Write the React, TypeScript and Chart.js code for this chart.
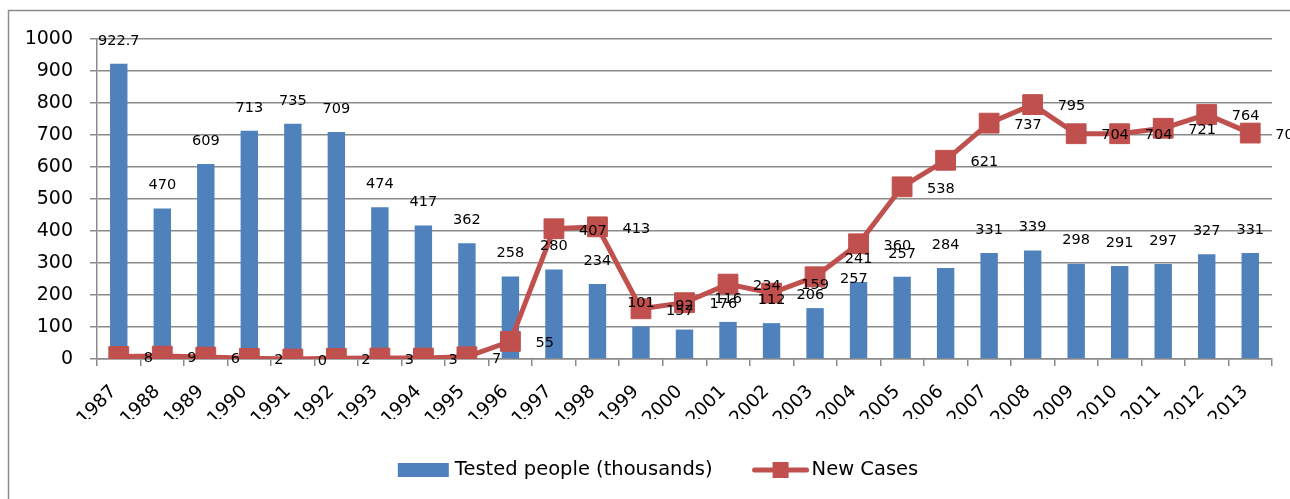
import React, { useEffect, useRef } from 'react';
import { Chart, registerables } from 'chart.js';

Chart.register(...registerables);

const years = ['1987', '1988', '1989', '1990', '1991', '1992', '1993', '1994', '1995', '1996', '1997', '1998', '1999', '2000', '2001', '2002', '2003', '2004', '2005', '2006', '2007', '2008', '2009', '2010', '2011', '2012', '2013'];
const testedPeople = [922.7, 470, 609, 713, 735, 709, 474, 417, 362, 258, 280, 234, 101, 92, 116, 112, 159, 241, 257, 284, 331, 339, 298, 291, 297, 327, 331];
const newCases = [8, 9, 6, 2, 0, 2, 3, 3, 7, 55, 407, 413, 157, 176, 234, 206, 257, 360, 538, 621, 737, 795, 704, 704, 721, 764, 706];
const seriesNames = ['Tested people (thousands)', 'New Cases'];

const BAR_COLOR = '#4F81BD';
const LINE_COLOR = '#C0504D';
const GRID_COLOR = '#8a8a8a';
const FONT = '"DejaVu Sans", sans-serif';

const framePlugin = {
  id: 'frame',
  beforeDraw(chart: any) {
    const ctx = chart.ctx;
    ctx.save();
    ctx.fillStyle = '#ffffff';
    ctx.fillRect(0, 0, chart.width, chart.height);
    ctx.strokeStyle = '#8a8a8a';
    ctx.lineWidth = 1.5;
    ctx.beginPath();
    ctx.moveTo(8.5, chart.height + 2);
    ctx.lineTo(8.5, 10.5);
    ctx.lineTo(chart.width + 2, 10.5);
    ctx.stroke();
    ctx.restore();
  },
};

const dataLabelPlugin = {
  id: 'dataLabels',
  afterDatasetsDraw(chart: any) {
    const ctx = chart.ctx;
    ctx.save();
    ctx.font = '14.5px ' + FONT;
    ctx.fillStyle = '#000000';
    ctx.textBaseline = 'middle';
    const barMeta = chart.getDatasetMeta(1);
    ctx.textAlign = 'center';
    barMeta.data.forEach((el: any, i: number) => {
      ctx.fillText(String(testedPeople[i]), el.x, el.y - 23);
    });
    const lineMeta = chart.getDatasetMeta(0);
    ctx.textAlign = 'left';
    lineMeta.data.forEach((el: any, i: number) => {
      ctx.fillText(String(newCases[i]), el.x + 25, el.y + 2);
    });
    ctx.restore();
  },
};

const legendPlugin = {
  id: 'customLegend',
  afterDraw(chart: any) {
    const ctx = chart.ctx;
    ctx.save();
    ctx.font = '19.5px ' + FONT;
    ctx.textBaseline = 'middle';
    ctx.textAlign = 'left';
    ctx.fillStyle = '#000000';
    const w1 = ctx.measureText(seriesNames[0]).width;
    const w2 = ctx.measureText(seriesNames[1]).width;
    const boxW = 51;
    const lineW = 56;
    const gap = 40;
    const total = boxW + 6 + w1 + gap + lineW + 3 + w2;
    const cy = 470;
    let x = 658 - total / 2;
    ctx.fillStyle = BAR_COLOR;
    ctx.fillRect(x, cy - 7, boxW, 14);
    x += boxW + 6;
    ctx.fillStyle = '#000000';
    ctx.fillText(seriesNames[0], x, cy);
    x += w1 + gap;
    ctx.strokeStyle = LINE_COLOR;
    ctx.lineWidth = 5;
    ctx.lineCap = 'round';
    ctx.beginPath();
    ctx.moveTo(x + 2, cy);
    ctx.lineTo(x + lineW - 2, cy);
    ctx.stroke();
    ctx.fillStyle = LINE_COLOR;
    ctx.fillRect(x + lineW / 2 - 8, cy - 8, 16, 16);
    x += lineW + 3;
    ctx.fillStyle = '#000000';
    ctx.fillText(seriesNames[1], x, cy);
    ctx.restore();
  },
};

export default function App() {
  const canvasRef = useRef<HTMLCanvasElement | null>(null);

  useEffect(() => {
    const canvas = canvasRef.current;
    if (!canvas) return;
    const chart = new Chart(canvas, {
      type: 'bar',
      data: {
        labels: years,
        datasets: [
          {
            type: 'line',
            label: seriesNames[1],
            data: newCases,
            borderColor: LINE_COLOR,
            backgroundColor: LINE_COLOR,
            borderWidth: 5,
            pointStyle: 'rect',
            pointRadius: 14,
            pointBorderWidth: 1,
            pointBackgroundColor: LINE_COLOR,
            pointBorderColor: LINE_COLOR,
            tension: 0,
            order: 0,
          } as any,
          {
            type: 'bar',
            label: seriesNames[0],
            data: testedPeople,
            backgroundColor: BAR_COLOR,
            borderWidth: 0,
            barPercentage: 0.4,
            categoryPercentage: 1,
            order: 1,
          } as any,
        ],
      },
      options: {
        responsive: false,
        animation: false,
        devicePixelRatio: 1,
        layout: { padding: { left: 0, top: 39, right: 18, bottom: 80 } },
        plugins: {
          legend: { display: false },
          tooltip: { enabled: false },
        },
        scales: {
          x: {
            offset: true,
            grid: {
              display: true,
              offset: true,
              drawOnChartArea: false,
              drawTicks: true,
              tickLength: 7,
              color: GRID_COLOR,
              lineWidth: 1.5,
            },
            border: { display: true, color: GRID_COLOR, width: 1.5 },
            ticks: {
              autoSkip: false,
              maxRotation: 45,
              minRotation: 45,
              color: '#000000',
              font: { family: FONT, size: 18.5 },
              padding: 15,
              labelOffset: -5,
            },
            afterFit(scale: any) {
              scale.height = 60;
              scale.paddingLeft = 0;
              scale.paddingRight = 0;
            },
          },
          y: {
            min: 0,
            max: 1000,
            ticks: {
              stepSize: 100,
              color: '#000000',
              font: { family: FONT, size: 19 },
              padding: 17,
              callback: (v: any) => String(v),
            },
            grid: {
              color: GRID_COLOR,
              lineWidth: 1.5,
              tickLength: 7,
              drawTicks: true,
            },
            border: { display: true, color: GRID_COLOR, width: 1.5 },
            afterFit(scale: any) {
              scale.width = 97;
              scale.paddingTop = 0;
              scale.paddingBottom = 0;
            },
          },
        },
      },
      plugins: [framePlugin, dataLabelPlugin, legendPlugin],
    });
    return () => chart.destroy();
  }, []);

  return (
    <div style={{ position: 'absolute', left: 0, top: 0, width: 1290, height: 499, background: '#fff' }}>
      <canvas ref={canvasRef} width={1290} height={499} style={{ display: 'block' }} />
    </div>
  );
}
